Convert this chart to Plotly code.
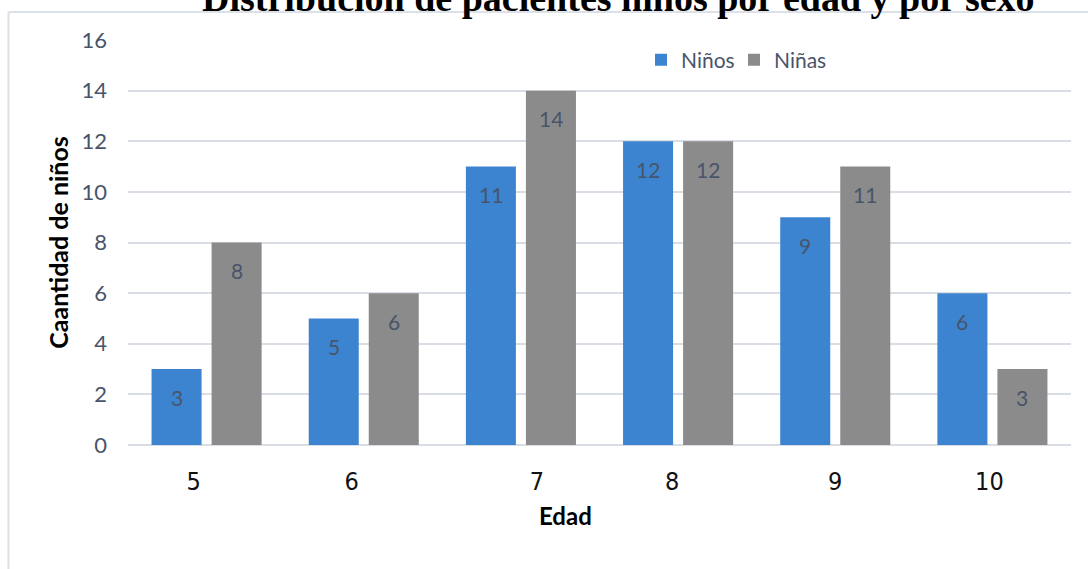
import plotly.graph_objects as go

# ---- data ----
edades = ["5", "6", "7", "8", "9", "10"]
ninos = [3, 5, 11, 12, 9, 6]
ninas = [8, 6, 14, 12, 11, 3]
titulo = "Distribución de pacientes niños por edad y por sexo"
titulo_y = "Caantidad de niños"
titulo_x = "Edad"
y_ticks = [0, 2, 4, 6, 8, 10, 12, 14, 16]

# ---- layout geometry (pixels) ----
W, H = 1088, 569
L, R, T, B = 128, 17, 40, 124
pw, ph = W - L - R, H - T - B
def px_x(p):
    return (p - L) / pw
def px_y(p):
    return (H - B - p) / ph

# per-label horizontal nudges of the x tick labels (px), as in the source image
label_shift_px = [-13, -12, 16, -6, 0, -3]
cat_w = pw / len(edades)
xs = list(range(len(edades)))
tickpos = [i + s / cat_w for i, s in zip(xs, label_shift_px)]

lbl_color = "#48546A"
grid_color = "#D9DEE6"
sans = "Lato, Open Sans, sans-serif"

series = [("Niños", ninos, "#3C84CF", -30), ("Niñas", ninas, "#8B8B8B", 30)]

fig = go.Figure()
annotations = []
for name, vals, col, dx in series:
    fig.add_trace(go.Bar(
        x=xs, y=vals, name=name,
        marker=dict(color=col, line=dict(width=0)),
    ))
    for xi, v in zip(xs, vals):
        annotations.append(dict(
            x=xi, y=v, xref="x", yref="y", text=str(v), showarrow=False,
            xshift=dx, yshift=-28, xanchor="center", yanchor="middle",
            font=dict(family=sans, size=21, color=lbl_color),
        ))

annotations += [
    dict(text="<b>" + titulo + "</b>", xref="paper", yref="paper",
         x=px_x(618), y=px_y(21), xanchor="center", yanchor="bottom",
         showarrow=False,
         font=dict(family="Liberation Serif, Times New Roman, serif", size=38, color="#000000")),
    dict(text="<b>" + titulo_x + "</b>", xref="paper", yref="paper",
         x=px_x(565), y=px_y(515), xanchor="center", yanchor="middle",
         showarrow=False,
         font=dict(family=sans, size=24, color="#000000")),
]

fig.update_layout(
    width=W, height=H,
    margin=dict(l=L, r=R, t=T, b=B, autoexpand=False),
    paper_bgcolor="white", plot_bgcolor="white",
    barmode="group", bargap=0.236, bargroupgap=1 / 6,
    showlegend=True,
    legend=dict(
        orientation="h", x=px_x(641), y=px_y(60), xanchor="left", yanchor="middle",
        font=dict(family=sans, size=21, color=lbl_color),
        bgcolor="rgba(0,0,0,0)", itemwidth=30, traceorder="normal",
        entrywidth=48,
    ),
    xaxis=dict(
        range=[-0.5, len(edades) - 0.5],
        tickmode="array", tickvals=tickpos, ticktext=edades,
        showgrid=False, zeroline=False, showline=False, ticks="",
        tickfont=dict(family="Liberation Sans Narrow, DejaVu Sans Condensed, sans-serif", size=25, color="#111111"),
        ticklabelstandoff=19,
        fixedrange=True,
    ),
    yaxis=dict(
        range=[0, 16], tickmode="array", tickvals=y_ticks,
        showgrid=True, gridcolor=grid_color, gridwidth=1.5,
        zeroline=True, zerolinecolor=grid_color, zerolinewidth=1.5,
        showline=False, ticks="",
        tickfont=dict(family=sans, size=22, color=lbl_color),
        ticklabelstandoff=20,
        title=dict(text="<b>" + titulo_y + "</b>", standoff=5,
                   font=dict(family=sans, size=25, color="#000000")),
        fixedrange=True,
    ),
    annotations=annotations,
    shapes=[
        dict(type="line", xref="paper", yref="paper",
             x0=px_x(8.5), x1=px_x(W + 5), y0=px_y(12), y1=px_y(12),
             line=dict(color="#DCE1E8", width=2), layer="below"),
        dict(type="line", xref="paper", yref="paper",
             x0=px_x(8.5), x1=px_x(8.5), y0=px_y(12), y1=px_y(H + 5),
             line=dict(color="#DCE1E8", width=2), layer="below"),
    ],
)

fig.write_html("out.html")
